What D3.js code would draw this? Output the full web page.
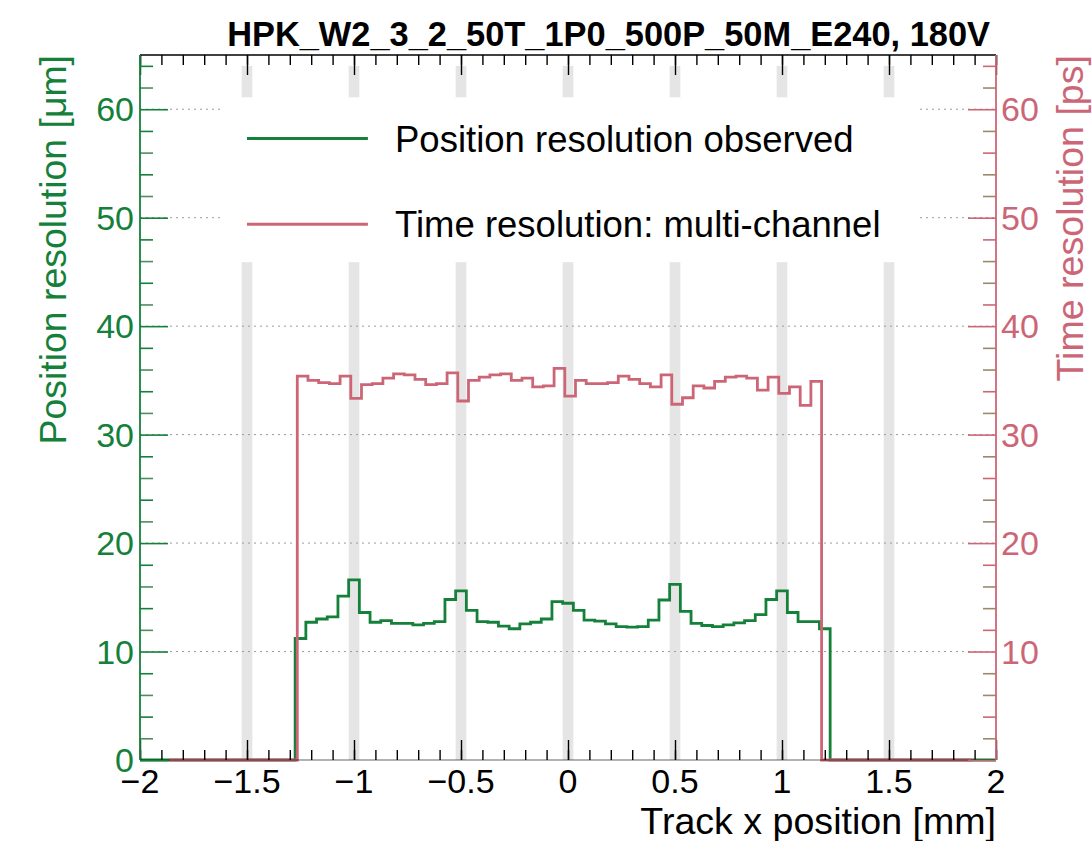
<!DOCTYPE html>
<html>
<head>
<meta charset="utf-8">
<script src="https://cdn.jsdelivr.net/npm/d3@7"></script>
<style>
  html, body { margin: 0; padding: 0; background: #ffffff; }
  svg { display: block; }
  text { font-family: "Liberation Sans", Arial, Helvetica, sans-serif; }
</style>
</head>
<body>
<svg id="chart" width="1092" height="841"></svg>
<script>
// ---- data -------------------------------------------------------------
const titleText = "HPK_W2_3_2_50T_1P0_500P_50M_E240, 180V";
const xLabel = "Track x position [mm]";
const yLabelLeft = "Position resolution [\u03bcm]";
const yLabelRight = "Time resolution [ps]";
const legendLabels = ["Position resolution observed", "Time resolution: multi-channel"];

const xTicks = [-2, -1.5, -1, -0.5, 0, 0.5, 1, 1.5, 2];
const yTicksLeft = [0, 10, 20, 30, 40, 50, 60];
const yTicksRight = [10, 20, 30, 40, 50, 60];

// strip boundaries (grey bands), centre positions in mm
const stripCentres = [-1.5, -1, -0.5, 0, 0.5, 1, 1.5];
const stripWidth = 0.05;

// position resolution histogram [um]: bins of 0.05 mm centred from -2.00 to 2.00
const posFirstCentre = -2.0;
const posBinWidth = 0.05;
const posValues = [
  0, 0, 0, 0, 0, 0, 0, 0, 0, 0, 0, 0, 0, 0, 0,
  11.2, 12.7, 13.0, 13.2, 15.1, 16.6, 13.6, 12.7, 12.85, 12.6,
  12.6, 12.45, 12.6, 12.75, 14.8, 15.6, 13.8, 12.75, 12.7, 12.35,
  12.1, 12.55, 12.7, 13.0, 14.6, 14.45, 13.8, 12.9, 12.8, 12.55,
  12.3, 12.25, 12.3, 12.9, 14.75, 16.2, 13.7, 12.6, 12.4, 12.3,
  12.45, 12.65, 12.85, 13.4, 14.8, 15.6, 13.6, 12.75, 12.75, 12.1,
  0, 0, 0, 0, 0, 0, 0, 0, 0, 0, 0, 0, 0, 0, 0, 0
];

// multi-channel time resolution histogram [ps]: bins of 0.05 mm from -1.865 mm
const timeFirstEdge = -1.865;
const timeBinWidth = 0.05;
const timeValues = [
  0, 0, 0, 0, 0, 0, 0, 0, 0, 0, 0, 0,
  35.4, 35.0, 34.8, 34.7, 35.4, 33.35, 34.6, 34.7, 35.2, 35.6,
  35.5, 35.1, 34.6, 34.7, 35.7, 33.1, 35.0, 35.3, 35.5, 35.6,
  35.0, 35.2, 34.4, 34.5, 36.1, 33.55, 35.0, 34.7, 34.7, 34.8,
  35.4, 35.1, 34.7, 34.4, 35.5, 32.8, 33.4, 34.5, 34.3, 34.9,
  35.3, 35.4, 35.2, 34.1, 35.3, 33.8, 34.4, 32.7, 34.9,
  0, 0, 0, 0, 0, 0, 0, 0, 0, 0, 0, 0, 0, 0
];

// ---- layout -----------------------------------------------------------
const GREEN = "#14803a";
const ROSE = "#cc6677";
const OLIVE = "#9a8a6c";
const FONT = 34;

const frame = { left: 140, right: 996, top: 55, bottom: 760 };
const svg = d3.select("#chart");

const x = d3.scaleLinear().domain([-2, 2]).range([frame.left, frame.right]);
const yL = d3.scaleLinear().domain([0, 65]).range([frame.bottom, frame.top]);
const yR = d3.scaleLinear().domain([0, 65]).range([frame.bottom, frame.top]);

svg.append("defs").append("clipPath").attr("id", "plotClip")
  .append("rect")
  .attr("x", frame.left).attr("y", frame.top - 2)
  .attr("width", frame.right - frame.left).attr("height", frame.bottom - frame.top + 4);

const plot = svg.append("g").attr("clip-path", "url(#plotClip)");

// grey strip boundary bands
plot.append("g").selectAll("rect").data(stripCentres).join("rect")
  .attr("x", d => x(d - stripWidth / 2))
  .attr("width", d => x(d + stripWidth / 2) - x(d - stripWidth / 2))
  .attr("y", yL(64))
  .attr("height", yL(0) - yL(64))
  .attr("fill", "#e5e5e5");

// dotted horizontal grid
plot.append("g").selectAll("line").data(yTicksRight).join("line")
  .attr("x1", frame.left).attr("x2", frame.right)
  .attr("y1", d => yL(d)).attr("y2", d => yL(d))
  .attr("stroke", "#9a9a9a").attr("stroke-width", 1)
  .attr("stroke-dasharray", "2,4");

// legend background
const legendBox = { x0: -1.615, x1: 1.64, y0: 45.9, y1: 61.1 };
plot.append("rect")
  .attr("x", x(legendBox.x0)).attr("y", yL(legendBox.y1))
  .attr("width", x(legendBox.x1) - x(legendBox.x0))
  .attr("height", yL(legendBox.y0) - yL(legendBox.y1))
  .attr("fill", "#ffffff");

// histogram step outlines
function stepPoints(values, firstEdge, width) {
  const pts = [];
  values.forEach((v, i) => {
    const lo = firstEdge + i * width;
    pts.push([lo, v], [lo + width, v]);
  });
  return pts;
}
const posPts = stepPoints(posValues, posFirstCentre - posBinWidth / 2, posBinWidth);
const timePts = stepPoints(timeValues, timeFirstEdge, timeBinWidth);

plot.append("path")
  .attr("d", d3.line().x(d => x(d[0])).y(d => yL(d[1]))(posPts))
  .attr("fill", "none").attr("stroke", GREEN).attr("stroke-width", 2.8)
  .attr("stroke-linejoin", "miter");

plot.append("path")
  .attr("d", d3.line().x(d => x(d[0])).y(d => yR(d[1]))(timePts))
  .attr("fill", "none").attr("stroke", ROSE).attr("stroke-width", 2.8)
  .attr("stroke-linejoin", "miter");

// ---- axes -------------------------------------------------------------
// bottom x axis
const xMinor = d3.range(-20, 21).map(i => i / 10);
const axBottom = svg.append("g").attr("transform", `translate(0,${frame.bottom})`)
  .call(d3.axisTop(x).tickValues(xMinor).tickSize(10).tickFormat(""));
axBottom.call(g => g.select(".domain").remove());
axBottom.append("g").call(d3.axisTop(x).tickValues(xTicks).tickSize(20).tickFormat(""))
  .call(g => g.select(".domain").remove());
axBottom.selectAll("line").attr("stroke", "#000").attr("stroke-width", 1.4);

svg.append("g").selectAll("text").data(xTicks).join("text")
  .attr("x", d => x(d)).attr("y", frame.bottom + 33)
  .attr("text-anchor", "middle").attr("font-size", FONT).attr("fill", "#000")
  .text(d => d3.format("~g")(d));

// top mirrored ticks
const axTop = svg.append("g").attr("transform", `translate(0,${frame.top})`)
  .call(d3.axisBottom(x).tickValues(xMinor).tickSize(10).tickFormat(""));
axTop.call(g => g.select(".domain").remove());
axTop.append("g").call(d3.axisBottom(x).tickValues(xTicks).tickSize(20).tickFormat(""))
  .call(g => g.select(".domain").remove());
axTop.selectAll("line").attr("stroke", "#000").attr("stroke-width", 1.4);

// frame lines
svg.append("line").attr("x1", frame.left).attr("x2", frame.right)
  .attr("y1", frame.top).attr("y2", frame.top).attr("stroke", "#000").attr("stroke-width", 1.6);
svg.append("line").attr("x1", frame.left).attr("x2", frame.right)
  .attr("y1", frame.bottom).attr("y2", frame.bottom).attr("stroke", "#000").attr("stroke-width", 1.2)
  .attr("opacity", 0.6);

// left y axis (position resolution)
const yMinor = d3.range(0, 66, 2);
const axLeft = svg.append("g").attr("transform", `translate(${frame.left},0)`);
axLeft.append("g").call(d3.axisRight(yL).tickValues(yMinor.filter(v => v % 10 !== 0)).tickSize(13).tickFormat(""))
  .call(g => g.select(".domain").remove())
  .selectAll("line").attr("stroke", (d, i) => i % 2 ? GREEN : "#4f8c5e").attr("stroke-width", 1.6);
axLeft.append("g").call(d3.axisRight(yL).tickValues(yTicksLeft).tickSize(28).tickFormat(""))
  .call(g => g.select(".domain").remove())
  .selectAll("line").attr("stroke", GREEN).attr("stroke-width", 1.6);
axLeft.append("line").attr("y1", frame.top).attr("y2", frame.bottom)
  .attr("stroke", GREEN).attr("stroke-width", 1.8);

svg.append("g").selectAll("text").data(yTicksLeft).join("text")
  .attr("x", frame.left - 6).attr("y", d => yL(d) + 12)
  .attr("text-anchor", "end").attr("font-size", FONT).attr("fill", GREEN)
  .text(d => d);

// right y axis (time resolution)
const axRight = svg.append("g").attr("transform", `translate(${frame.right},0)`);
axRight.append("g").call(d3.axisLeft(yR).tickValues(yMinor.filter(v => v % 10 !== 0)).tickSize(13).tickFormat(""))
  .call(g => g.select(".domain").remove())
  .selectAll("line").attr("stroke", (d, i) => i % 3 === 1 ? ROSE : OLIVE).attr("stroke-width", 1.6);
axRight.append("g").call(d3.axisLeft(yR).tickValues(yTicksLeft).tickSize(28).tickFormat(""))
  .call(g => g.select(".domain").remove())
  .selectAll("line").attr("stroke", ROSE).attr("stroke-width", 1.6);
axRight.append("line").attr("y1", frame.top).attr("y2", frame.bottom)
  .attr("stroke", ROSE).attr("stroke-width", 1.8);

svg.append("g").selectAll("text").data(yTicksRight).join("text")
  .attr("x", frame.right + 5).attr("y", d => yR(d) + 12)
  .attr("text-anchor", "start").attr("font-size", FONT).attr("fill", ROSE)
  .text(d => d);

// ---- titles -----------------------------------------------------------
svg.append("text").attr("x", 990).attr("y", 46)
  .attr("text-anchor", "end").attr("font-size", 34.4).attr("font-weight", "bold")
  .attr("fill", "#000").text(titleText);

svg.append("text").attr("x", frame.right).attr("y", 834)
  .attr("text-anchor", "end").attr("font-size", 37.6).attr("fill", "#000").text(xLabel);

svg.append("text").attr("transform", `translate(66,${frame.top}) rotate(-90)`)
  .attr("text-anchor", "end").attr("font-size", 37.4).attr("fill", GREEN).text(yLabelLeft);

svg.append("text").attr("transform", `translate(1083,${frame.top}) rotate(-90)`)
  .attr("text-anchor", "end").attr("font-size", 37.6).attr("fill", ROSE).text(yLabelRight);

// ---- legend -----------------------------------------------------------
const legendRows = [
  { label: legendLabels[0], color: GREEN, y: 57.3 },
  { label: legendLabels[1], color: ROSE, y: 49.4 }
];
const leg = svg.append("g");
leg.selectAll("line").data(legendRows).join("line")
  .attr("x1", x(-1.5)).attr("x2", x(-0.935))
  .attr("y1", d => yL(d.y)).attr("y2", d => yL(d.y))
  .attr("stroke", d => d.color).attr("stroke-width", 3);
leg.selectAll("text").data(legendRows).join("text")
  .attr("x", 395)
  .attr("y", d => yL(d.y) + 13)
  .attr("font-size", 36.5).attr("fill", "#000")
  .text(d => d.label);
</script>
</body>
</html>
